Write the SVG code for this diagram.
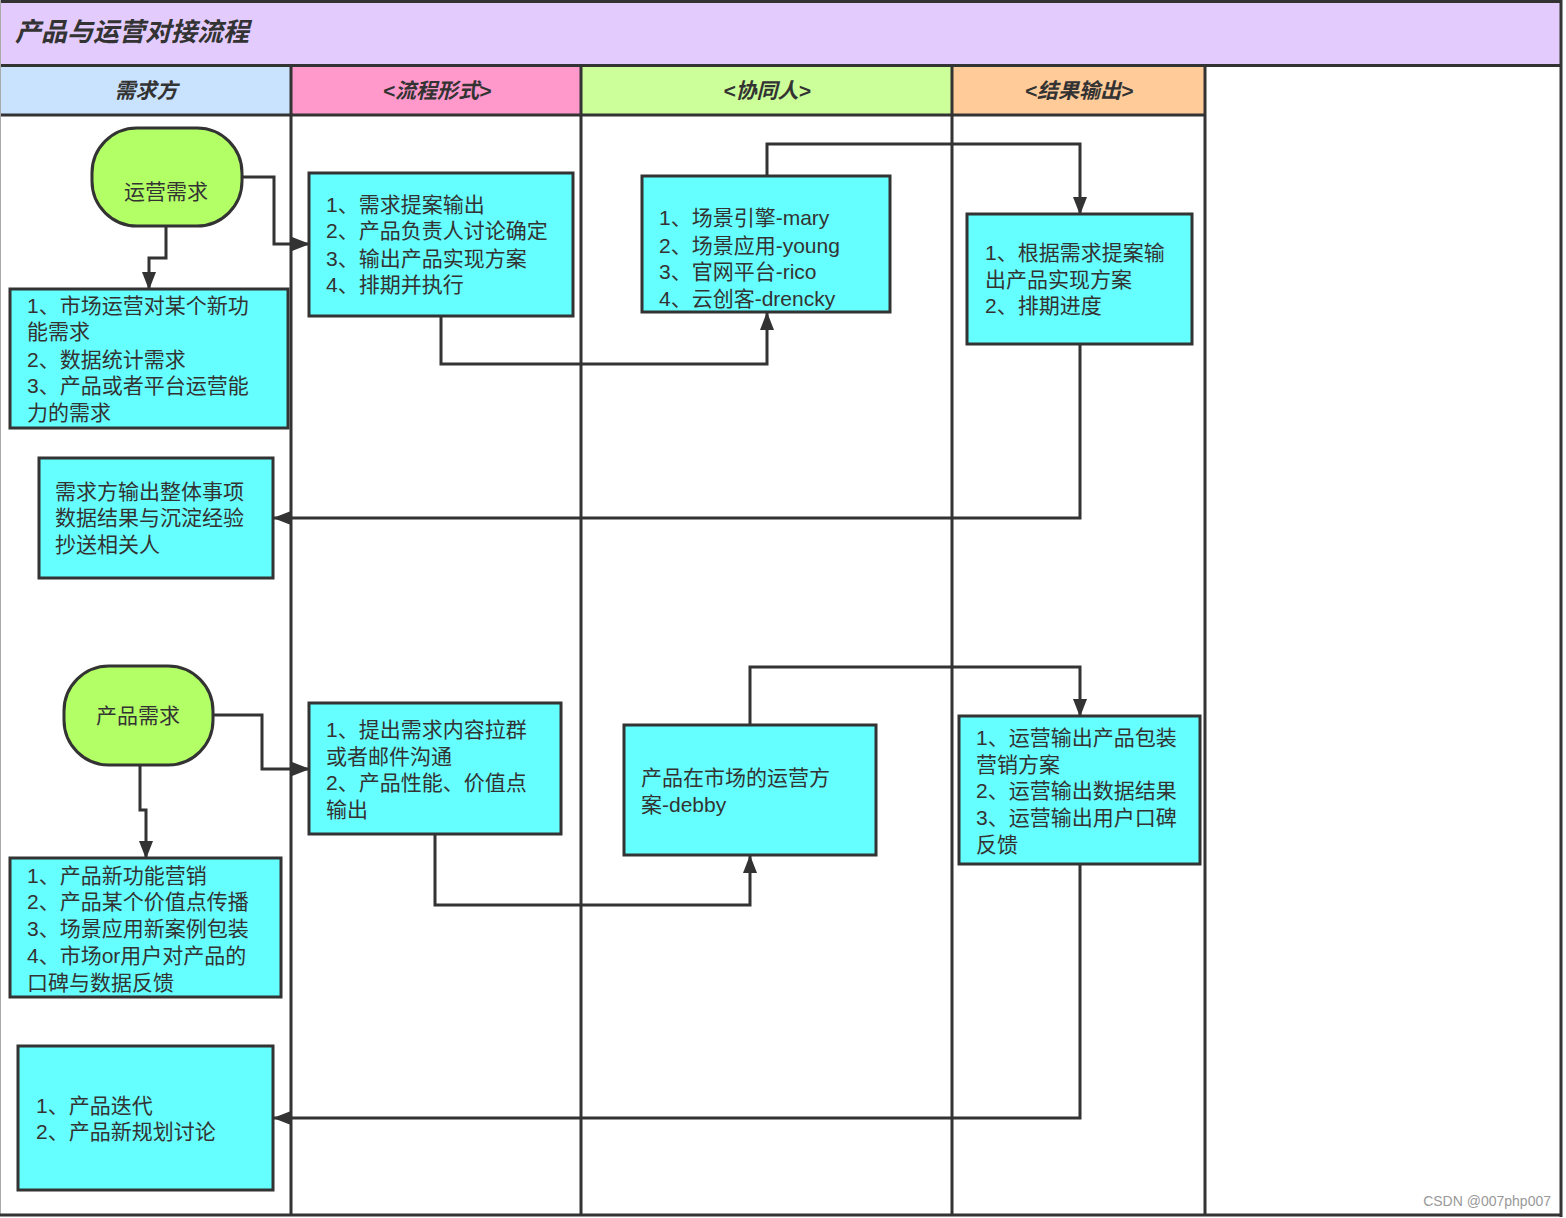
<svg xmlns="http://www.w3.org/2000/svg" width="1566" height="1218" viewBox="0 0 1566 1218">
<defs>
<marker id="arr" markerWidth="18" markerHeight="14" refX="17" refY="7" orient="auto" markerUnits="userSpaceOnUse">
<path d="M0,0 L18,7 L0,14 Z" fill="#333"/>
</marker>
<style>
.lane{stroke:#333;stroke-width:3;fill:none}
.box{fill:#66ffff;stroke:#333;stroke-width:3}
.term{fill:#b3ff66;stroke:#333;stroke-width:3}
.t{font-family:"Liberation Sans","Noto Sans CJK SC",sans-serif;font-size:21px;fill:#333;dominant-baseline:central}
.h{font-family:"Liberation Sans","Noto Sans CJK SC",sans-serif;font-size:21px;font-weight:bold;font-style:italic;fill:#333;text-anchor:middle;dominant-baseline:central}
.c{stroke:#333;stroke-width:3;fill:none;marker-end:url(#arr)}
</style>
</defs>
<rect x="0" y="0" width="1566" height="1218" fill="#fff"/>
<g id="frame">
<rect x="1" y="1.5" width="1559" height="63" fill="#e3ccfd"/>
<rect x="0" y="66" width="291" height="48" fill="#c9e3ff"/>
<rect x="291" y="66" width="290" height="48" fill="#ff99cc"/>
<rect x="581" y="66" width="371" height="48" fill="#ccff99"/>
<rect x="952" y="66" width="253" height="48" fill="#ffcc99"/>
<line x1="0" y1="1.5" x2="1562" y2="1.5" class="lane" stroke-width="2"/>
<line x1="0" y1="65.5" x2="1562" y2="65.5" class="lane"/>
<line x1="0" y1="115" x2="1205" y2="115" class="lane"/>
<line x1="0.5" y1="0" x2="0.5" y2="1216" stroke="#aaa" stroke-width="1"/>
<line x1="1561" y1="0" x2="1561" y2="1217" class="lane"/>
<line x1="0" y1="1215" x2="1562" y2="1215" class="lane"/>
<line x1="291" y1="66" x2="291" y2="1216" class="lane"/>
<line x1="581" y1="66" x2="581" y2="1216" class="lane"/>
<line x1="952" y1="66" x2="952" y2="1216" class="lane"/>
<line x1="1205" y1="66" x2="1205" y2="1216" class="lane"/>
<text x="15" y="32" font-family="'Liberation Sans','Noto Sans CJK SC',sans-serif" font-size="26" font-weight="bold" font-style="italic" fill="#333" dominant-baseline="central">产品与运营对接流程</text>
<text class="h" x="146" y="90">需求方</text>
<text class="h" x="437" y="90">&lt;流程形式&gt;</text>
<text class="h" x="767" y="90">&lt;协同人&gt;</text>
<text class="h" x="1079" y="90">&lt;结果输出&gt;</text>
<text x="1551" y="1201" text-anchor="end" font-family="'Liberation Sans',sans-serif" font-size="14" fill="#999" dominant-baseline="central">CSDN @007php007</text>
</g>
<g id="connectors">
<polyline class="c" points="242,177 274,177 274,244 309,244"/>
<polyline class="c" points="166,226 166,258 149,258 149,289"/>
<polyline class="c" points="441,316 441,364 767,364 767,313"/>
<polyline class="c" points="767,176 767,144 1080,144 1080,214"/>
<polyline class="c" points="1080,344 1080,518 274,518"/>
<polyline class="c" points="213,715 262,715 262,769 309,769"/>
<polyline class="c" points="140,765 140,810 146,810 146,858"/>
<polyline class="c" points="435,834 435,905 750,905 750,856"/>
<polyline class="c" points="750,725 750,667 1080,667 1080,716"/>
<polyline class="c" points="1080,864 1080,1118 274,1118"/>
</g>
<g id="n-yunying">
<rect class="term" x="92" y="128" width="150" height="98" rx="45" ry="45"/>
<text class="t" x="166" y="191" text-anchor="middle">运营需求</text>
</g>
<g id="n-a1">
<rect class="box" x="10" y="289" width="278" height="139"/>
<text class="t"><tspan x="27" y="305">1、市场运营对某个新功</tspan><tspan x="27" y="331">能需求</tspan><tspan x="27" y="359">2、数据统计需求</tspan><tspan x="27" y="385">3、产品或者平台运营能</tspan><tspan x="27" y="412">力的需求</tspan></text>
</g>
<g id="n-b1">
<rect class="box" x="309" y="173" width="264" height="143"/>
<text class="t"><tspan x="326" y="204">1、需求提案输出</tspan><tspan x="326" y="230">2、产品负责人讨论确定</tspan><tspan x="326" y="258">3、输出产品实现方案</tspan><tspan x="326" y="284">4、排期并执行</tspan></text>
</g>
<g id="n-c1">
<rect class="box" x="642" y="176" width="248" height="136"/>
<text class="t"><tspan x="659" y="217">1、场景引擎-mary</tspan><tspan x="659" y="245">2、场景应用-young</tspan><tspan x="659" y="271">3、官网平台-rico</tspan><tspan x="659" y="298">4、云创客-drencky</tspan></text>
</g>
<g id="n-d1">
<rect class="box" x="967" y="214" width="225" height="130"/>
<text class="t"><tspan x="985" y="252">1、根据需求提案输</tspan><tspan x="985" y="279">出产品实现方案</tspan><tspan x="985" y="305">2、排期进度</tspan></text>
</g>
<g id="n-e1">
<rect class="box" x="39" y="458" width="234" height="120"/>
<text class="t"><tspan x="55" y="491">需求方输出整体事项</tspan><tspan x="55" y="517">数据结果与沉淀经验</tspan><tspan x="55" y="544">抄送相关人</tspan></text>
</g>
<g id="n-chanpin">
<rect class="term" x="64" y="666" width="149" height="99" rx="45" ry="45"/>
<text class="t" x="138" y="715" text-anchor="middle">产品需求</text>
</g>
<g id="n-a2">
<rect class="box" x="10" y="858" width="271" height="139"/>
<text class="t"><tspan x="27" y="875">1、产品新功能营销</tspan><tspan x="27" y="901">2、产品某个价值点传播</tspan><tspan x="27" y="928">3、场景应用新案例包装</tspan><tspan x="27" y="955">4、市场or用户对产品的</tspan><tspan x="27" y="982">口碑与数据反馈</tspan></text>
</g>
<g id="n-b2">
<rect class="box" x="309" y="703" width="252" height="131"/>
<text class="t"><tspan x="326" y="729">1、提出需求内容拉群</tspan><tspan x="326" y="756">或者邮件沟通</tspan><tspan x="326" y="782">2、产品性能、价值点</tspan><tspan x="326" y="809">输出</tspan></text>
</g>
<g id="n-c2">
<rect class="box" x="624" y="725" width="252" height="130"/>
<text class="t"><tspan x="641" y="777">产品在市场的运营方</tspan><tspan x="641" y="804">案-debby</tspan></text>
</g>
<g id="n-d2">
<rect class="box" x="959" y="716" width="241" height="148"/>
<text class="t"><tspan x="976" y="737">1、运营输出产品包装</tspan><tspan x="976" y="764">营销方案</tspan><tspan x="976" y="790">2、运营输出数据结果</tspan><tspan x="976" y="817">3、运营输出用户口碑</tspan><tspan x="976" y="844">反馈</tspan></text>
</g>
<g id="n-e2">
<rect class="box" x="18" y="1046" width="255" height="144"/>
<text class="t"><tspan x="36" y="1105">1、产品迭代</tspan><tspan x="36" y="1131">2、产品新规划讨论</tspan></text>
</g>
</svg>
